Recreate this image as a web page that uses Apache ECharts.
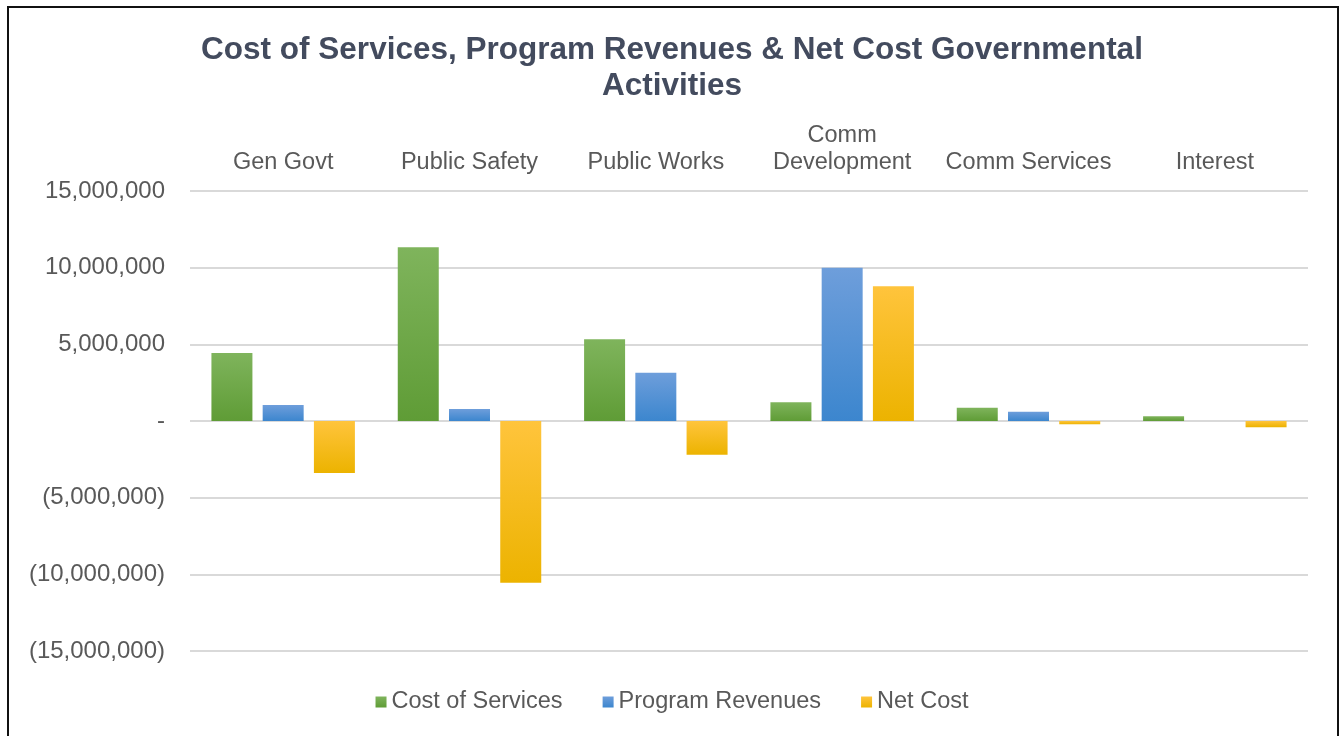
<!DOCTYPE html>
<html>
<head>
<meta charset="utf-8">
<script src="https://cdn.jsdelivr.net/npm/echarts@6/dist/echarts.min.js"></script>
<style>
html,body{margin:0;padding:0;background:#fff;}
#chart{width:1344px;height:736px;}
</style>
</head>
<body>
<div id="chart"></div>
<script>
const categories = ['Gen Govt', 'Public Safety', 'Public Works', 'Comm\nDevelopment', 'Comm Services', 'Interest'];
const costOfServices = [4430000, 11330000, 5330000, 1220000, 870000, 310000];
const programRevenues = [1040000, 780000, 3150000, 10000000, 610000, 0];
const netCost = [-3390000, -10550000, -2200000, 8780000, -220000, -400000];
const seriesNames = ['Cost of Services', 'Program Revenues', 'Net Cost'];
const yTicks = { min: -15000000, max: 15000000, interval: 5000000 };

function fmt(v) {
  if (v === 0) return '-';
  const s = Math.abs(v).toLocaleString('en-US');
  return v < 0 ? '(' + s + ')' : s;
}
function grad(top, bottom) {
  return new echarts.graphic.LinearGradient(0, 0, 0, 1, [
    { offset: 0, color: top }, { offset: 1, color: bottom }
  ]);
}
const font = 'Liberation Sans, Arial, sans-serif';
const chart = echarts.init(document.getElementById('chart'));
chart.setOption({
  animation: false,
  backgroundColor: '#fff',
  title: {
    text: 'Cost of Services, Program Revenues & Net Cost Governmental\nActivities',
    left: 'center', top: 27,
    textStyle: { fontFamily: font, fontSize: 31.5, fontWeight: 'bold', color: '#434B5E', lineHeight: 36 }
  },
  graphic: [{
    type: 'rect', shape: { x: 8, y: 7, width: 1330, height: 740 },
    style: { fill: 'none', stroke: '#111', lineWidth: 2 }, z: 100
  }],
  legend: {
    bottom: 17, left: 'center', itemWidth: 11, itemHeight: 11, itemGap: 40,
    icon: 'rect',
    textStyle: { fontFamily: font, fontSize: 23.5, color: '#595959' },
    data: seriesNames
  },
  grid: { left: 190, right: 36, top: 191, bottom: 85, containLabel: false },
  xAxis: {
    type: 'category', data: categories, position: 'top',
    axisLine: { show: false }, axisTick: { show: false },
    axisLabel: { fontFamily: font, fontSize: 23.5, color: '#595959', margin: 15, lineHeight: 27, interval: 0 }
  },
  yAxis: {
    type: 'value', min: yTicks.min, max: yTicks.max, interval: yTicks.interval,
    axisLine: { show: false }, axisTick: { show: false },
    axisLabel: { fontFamily: font, fontSize: 24, color: '#595959', margin: 25, formatter: fmt },
    splitLine: { lineStyle: { color: '#D9D9D9', width: 2 } }
  },
  series: [
    { name: seriesNames[0], type: 'bar', data: costOfServices, barGap: '25%', barCategoryGap: '23%',
      itemStyle: { color: grad('#7FB45C', '#5F9C36') } },
    { name: seriesNames[1], type: 'bar', data: programRevenues,
      itemStyle: { color: grad('#6E9EDB', '#3C86CE') } },
    { name: seriesNames[2], type: 'bar', data: netCost,
      itemStyle: { color: grad('#FFC43C', '#ECB300') } }
  ]
});
</script>
</body>
</html>
